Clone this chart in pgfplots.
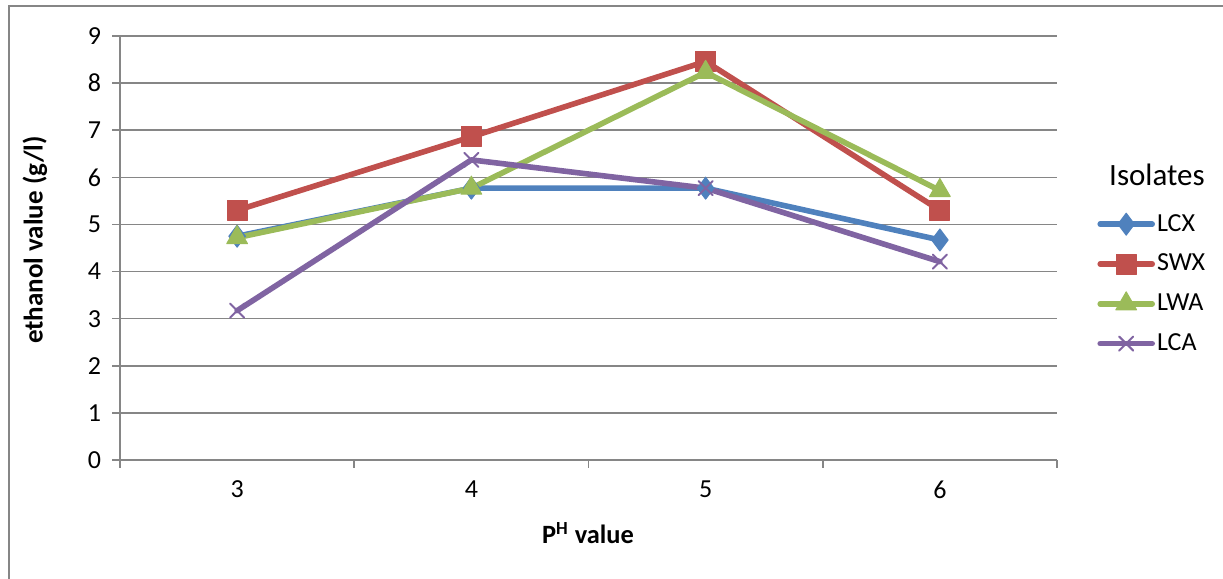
\documentclass[border=0pt]{standalone}
\usepackage{pgfplots}
\pgfplotsset{compat=1.18}
\usepackage{fontspec}
\setmainfont{Carlito}
\definecolor{cLCX}{HTML}{4F81BD}
\definecolor{cSWX}{HTML}{C0504D}
\definecolor{cLWA}{HTML}{9BBB59}
\definecolor{cLCA}{HTML}{8064A2}
\definecolor{gridgray}{HTML}{868686}
\begin{document}
\begin{tikzpicture}
\useasboundingbox (0,0) rectangle (611.5pt,289.5pt);
\draw[color=gridgray, line width=1pt] (4.25pt,-2pt) -- (4.25pt,286.25pt) -- (614pt,286.25pt);
\begin{axis}[
  at={(60pt,59.5pt)}, anchor=south west, scale only axis,
  width=468.5pt, height=212pt,
  xmin=-0.5, xmax=3.5, ymin=0, ymax=9,
  xtick={-0.5,0.5,1.5,2.5,3.5}, xticklabels={3,4,5,6}, x tick label as interval,
  ytick={0,1,...,9},
  axis x line*=bottom, axis y line*=left,
  axis line style={-, gridgray, line width=0.8pt},
  tick align=outside, major tick length=4pt,
  tick style={gridgray, line width=0.8pt},
  ymajorgrids, grid style={gridgray, line width=0.8pt},
  ticklabel style={font=\fontsize{13}{15}\selectfont, text=black},
  yticklabel style={xshift=-2pt},
  xticklabel style={yshift=-3pt},
  /pgf/number format/assume math mode=true,
  clip=false,
  legend style={draw=none, fill=none, at={(1.0427,0.59)}, anchor=north west,
    font=\fontsize{13}{15}\selectfont, row sep=6pt, inner sep=0pt,
    nodes={inner xsep=1pt}},
  legend cell align=left,
  legend image code/.code={\draw[mark repeat=2,mark phase=2,#1] plot coordinates {(0pt,0pt) (13pt,0pt) (26pt,0pt)};},
  every axis plot/.append style={line width=2.8pt, line join=round, line cap=round},
]
\addplot[color=cLCX, mark=diamond*, mark size=5.5pt, mark options={solid, line width=0.5pt, fill=cLCX}]
  coordinates {(0,4.75) (1,5.77) (2,5.77) (3,4.67)};
\addlegendentry{LCX}
\addplot[color=cSWX, mark=square*, mark size=5pt, mark options={solid, line width=0.5pt, fill=cSWX}]
  coordinates {(0,5.30) (1,6.86) (2,8.46) (3,5.30)};
\addlegendentry{SWX}
\addplot[color=cLWA, mark=triangle*, mark size=6pt, mark options={solid, line width=0.5pt, fill=cLWA}]
  coordinates {(0,4.72) (1,5.77) (2,8.23) (3,5.72)};
\addlegendentry{LWA}
\addplot[color=cLCA, mark=x, mark size=5pt, mark options={solid, line width=1pt}]
  coordinates {(0,3.17) (1,6.37) (2,5.77) (3,4.21)};
\addlegendentry{LCA}
\end{axis}
\node[font=\fontsize{15.5}{18}\selectfont] at (578.5pt,202pt) {Isolates};
\node[font=\bfseries\fontsize{13.5}{16}\selectfont, rotate=90] at (17.5pt,169.5pt) {ethanol value (g/l)};
\node[font=\bfseries\fontsize{13.2}{16}\selectfont] at (294pt,23pt) {P\textsuperscript{H} value};
\end{tikzpicture}
\end{document}
